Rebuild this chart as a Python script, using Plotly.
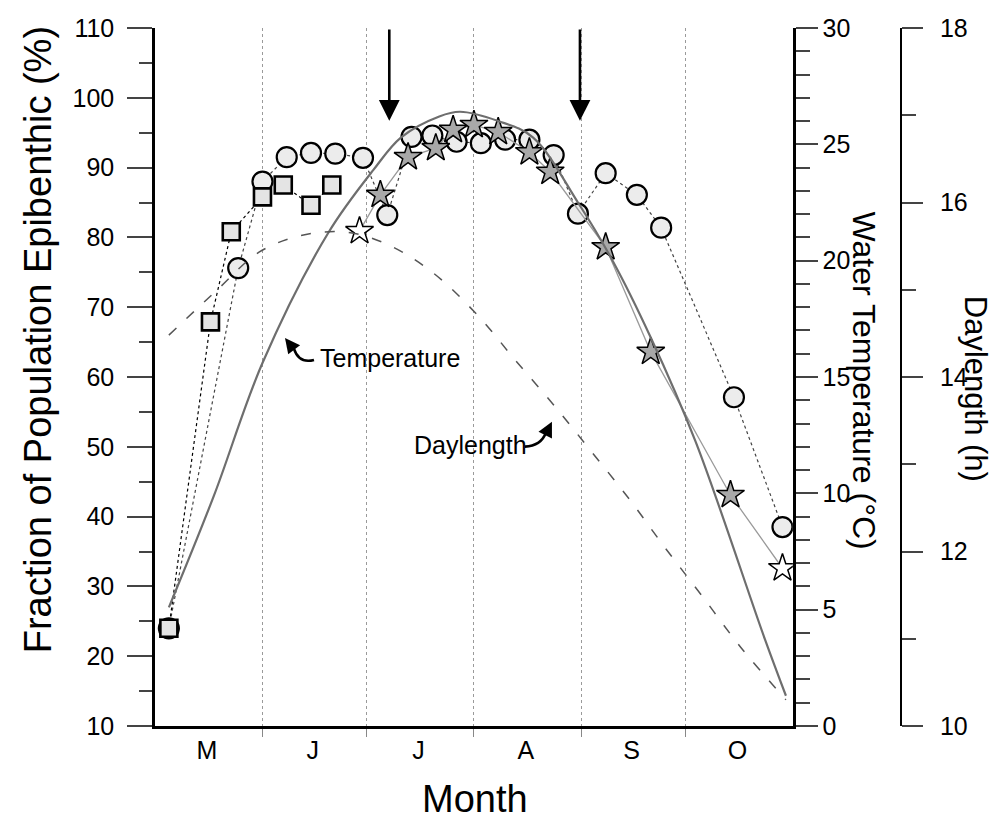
import plotly.graph_objects as go

# ---------------- data ----------------
sq_dates = ["2000-05-05", "2000-05-17", "2000-05-23", "2000-06-01", "2000-06-07", "2000-06-15", "2000-06-21"]
sq_vals = [24.0, 67.9, 80.8, 85.8, 87.5, 84.6, 87.5]

ci_dates = ["2000-05-05", "2000-05-25", "2000-06-01", "2000-06-08", "2000-06-15", "2000-06-22", "2000-06-30",
            "2000-07-07", "2000-07-14", "2000-07-20", "2000-07-27", "2000-08-03", "2000-08-10",
            "2000-08-17", "2000-08-24", "2000-08-31", "2000-09-08", "2000-09-17", "2000-09-24",
            "2000-10-15", "2000-10-29"]
ci_vals = [24.0, 75.6, 88.0, 91.5, 92.1, 92.0, 91.4, 83.2, 94.4, 94.6, 93.7, 93.5, 94.0,
           94.0, 91.8, 83.4, 89.2, 86.1, 81.4, 57.1, 38.5]

st_dates = ["2000-06-29", "2000-07-05", "2000-07-13", "2000-07-21", "2000-07-26", "2000-08-01",
            "2000-08-08", "2000-08-17", "2000-08-23", "2000-09-08", "2000-09-21", "2000-10-14", "2000-10-29"]
st_vals = [80.9, 86.1, 91.5, 92.8, 95.4, 96.1, 95.1, 92.2, 89.4, 78.6, 63.6, 43.1, 32.6]

temp_dates = ["2000-05-05", "2000-05-18", "2000-06-01", "2000-06-20", "2000-07-03", "2000-07-11",
              "2000-07-22", "2000-07-28", "2000-08-08", "2000-08-18", "2000-08-31", "2000-09-10",
              "2000-09-21", "2000-10-04", "2000-10-24", "2000-10-30"]
temp_vals = [5.1, 9.9, 15.6, 21.2, 23.9, 25.3, 26.2, 26.4, 26.0, 25.3, 22.5, 20.0, 16.7, 12.2, 3.7, 1.3]

day_dates = ["2000-05-05", "2000-05-19", "2000-05-31", "2000-06-12", "2000-06-25", "2000-07-07",
             "2000-07-20", "2000-08-02", "2000-08-13", "2000-08-24", "2000-09-04", "2000-09-15",
             "2000-09-25", "2000-10-06", "2000-10-17", "2000-10-30"]
day_vals = [14.48, 15.0, 15.43, 15.62, 15.66, 15.52, 15.2, 14.71, 14.19, 13.68, 13.14, 12.59,
            12.05, 11.48, 10.9, 10.3]

month_mid = ["2000-05-16", "2000-06-15 12:00", "2000-07-16", "2000-08-16", "2000-09-15 12:00", "2000-10-16"]
month_labels = ["M", "J", "J", "A", "S", "O"]
month_bounds = ["2000-06-01", "2000-07-01", "2000-08-01", "2000-09-01", "2000-10-01"]

arrow_dates = ["2000-07-07 14:00", "2000-08-31 14:00"]

FONT = "Liberation Sans, Arial, sans-serif"
star_fill = ["white"] + ["#a8a8a8"] * 11 + ["white"]

fig = go.Figure()

fig.add_trace(go.Scatter(x=temp_dates, y=temp_vals, yaxis="y2", mode="lines", line_shape="spline",
                         line=dict(color="#6e6e6e", width=2.2), hoverinfo="skip"))
fig.add_trace(go.Scatter(x=day_dates, y=day_vals, yaxis="y3", mode="lines", line_shape="spline",
                         line=dict(color="#555555", width=1.5, dash="10px,14px"), hoverinfo="skip"))

fig.add_trace(go.Scatter(x=ci_dates, y=ci_vals, mode="lines+markers",
                         line=dict(color="#444444", width=1.2, dash="dot"),
                         marker=dict(symbol="circle", size=20, color="#ececec",
                                     line=dict(color="black", width=2.2))))
fig.add_trace(go.Scatter(x=st_dates, y=st_vals, mode="lines+markers",
                         line=dict(color="#9a9a9a", width=1.3),
                         marker=dict(symbol="star", size=21, color=star_fill,
                                     line=dict(color="black", width=1.5))))
fig.add_trace(go.Scatter(x=sq_dates, y=sq_vals, mode="lines+markers",
                         line=dict(color="black", width=1.2, dash="dot"),
                         marker=dict(symbol="square", size=17, color="#e4e4e4",
                                     line=dict(color="black", width=2.6))))

XD = 0.776
TF = 25
fig.update_layout(
    width=997, height=823,
    margin=dict(l=155, r=20, t=28, b=97),
    paper_bgcolor="white", plot_bgcolor="white",
    showlegend=False,
    font=dict(family=FONT, color="black"),
    xaxis=dict(type="date", range=["2000-05-01", "2000-11-01"], domain=[0, XD],
               tickmode="array", tickvals=month_mid, ticktext=month_labels, ticks="",
               tickfont=dict(size=TF), showgrid=False, zeroline=False,
               showline=True, linecolor="black", linewidth=2.5,
               minor=dict(tickmode="array", tickvals=month_bounds, ticks="outside", ticklen=8,
                          tickcolor="#888888", tickwidth=1, showgrid=True, gridcolor="#9a9a9a",
                          griddash="dot", gridwidth=1.2)),
    yaxis=dict(range=[10, 110], tick0=10, dtick=10, ticks="outside", ticklen=25, tickwidth=2,
               tickfont=dict(size=TF), showgrid=False, zeroline=False, showline=True,
               linecolor="black", linewidth=2.5, ticklabelstandoff=8,
               minor=dict(dtick=5, ticks="outside", ticklen=13, tickwidth=2)),
    yaxis2=dict(range=[0, 30], overlaying="y", side="right", anchor="x", dtick=5, ticks="outside",
                ticklen=22, tickwidth=2, tickfont=dict(size=TF), showgrid=False, zeroline=False,
                showline=True, linecolor="black", linewidth=2.5,
                minor=dict(dtick=1, ticks="outside", ticklen=14, tickwidth=2)),
    yaxis3=dict(range=[10, 18], overlaying="y", side="right", anchor="free", position=0.9075,
                dtick=2, ticks="outside", ticklen=21, tickwidth=2, tickfont=dict(size=TF),
                showgrid=False, zeroline=False, showline=True, linecolor="black", linewidth=2,
                ticklabelstandoff=12,
                minor=dict(dtick=1, ticks="outside", ticklen=14, tickwidth=2)),
)

ann = []
for d in arrow_dates:
    ann.append(dict(x=d, y=96.7, ax=d, ay=110, xref="x", yref="y", axref="x", ayref="y",
                    text="", showarrow=True, arrowhead=2, arrowsize=1.6, arrowwidth=2.6,
                    arrowcolor="black"))
# Temperature label + hooked arrow
ann.append(dict(x="2000-06-17", y=62.7, xref="x", yref="y", text="Temperature", showarrow=False,
                xanchor="left", yanchor="middle", font=dict(size=25)))
ann.append(dict(x="2000-06-07 12:00", y=65.6, xref="x", yref="y", ax=10, ay=13, text="",
                showarrow=True, arrowhead=2, arrowsize=1.2, arrowwidth=2.5, arrowcolor="black"))
# Daylength label + hooked arrow
ann.append(dict(x="2000-07-14", y=50.3, xref="x", yref="y", text="Daylength", showarrow=False,
                xanchor="left", yanchor="middle", font=dict(size=25)))
ann.append(dict(x="2000-08-23 12:00", y=53.6, xref="x", yref="y", ax=-6, ay=12, text="",
                showarrow=True, arrowhead=2, arrowsize=1.2, arrowwidth=2.5, arrowcolor="black"))
# axis titles
ann.append(dict(x=-0.142, y=0.553, xref="paper", yref="paper", text="Fraction of Population Epibenthic (%)",
                textangle=-90, showarrow=False, font=dict(size=38), xanchor="center", yanchor="middle"))
ann.append(dict(x=0.389, y=-0.105, xref="paper", yref="paper", text="Month", showarrow=False,
                font=dict(size=38), xanchor="center", yanchor="middle"))
ann.append(dict(x=0.8625, y=0.495, xref="paper", yref="paper", text="Water Temperature (°C)",
                textangle=90, showarrow=False, font=dict(size=32), xanchor="center", yanchor="middle"))
ann.append(dict(x=0.9976, y=0.483, xref="paper", yref="paper", text="Daylength (h)",
                textangle=90, showarrow=False, font=dict(size=31), xanchor="center", yanchor="middle"))
fig.update_layout(annotations=ann)

shapes = [
    dict(type="path", xref="x", yref="y", xsizemode="pixel", ysizemode="pixel",
         xanchor="2000-06-07 12:00", yanchor=65.6, path="M 29,-22 Q 14,-26 9,-11",
         line=dict(color="black", width=2.6)),
    dict(type="path", xref="x", yref="y", xsizemode="pixel", ysizemode="pixel",
         xanchor="2000-08-23 12:00", yanchor=53.6, path="M -27,-25 Q -11,-24 -6,-11",
         line=dict(color="black", width=2.6)),
]
fig.update_layout(shapes=shapes)

fig.write_html("out.html")
